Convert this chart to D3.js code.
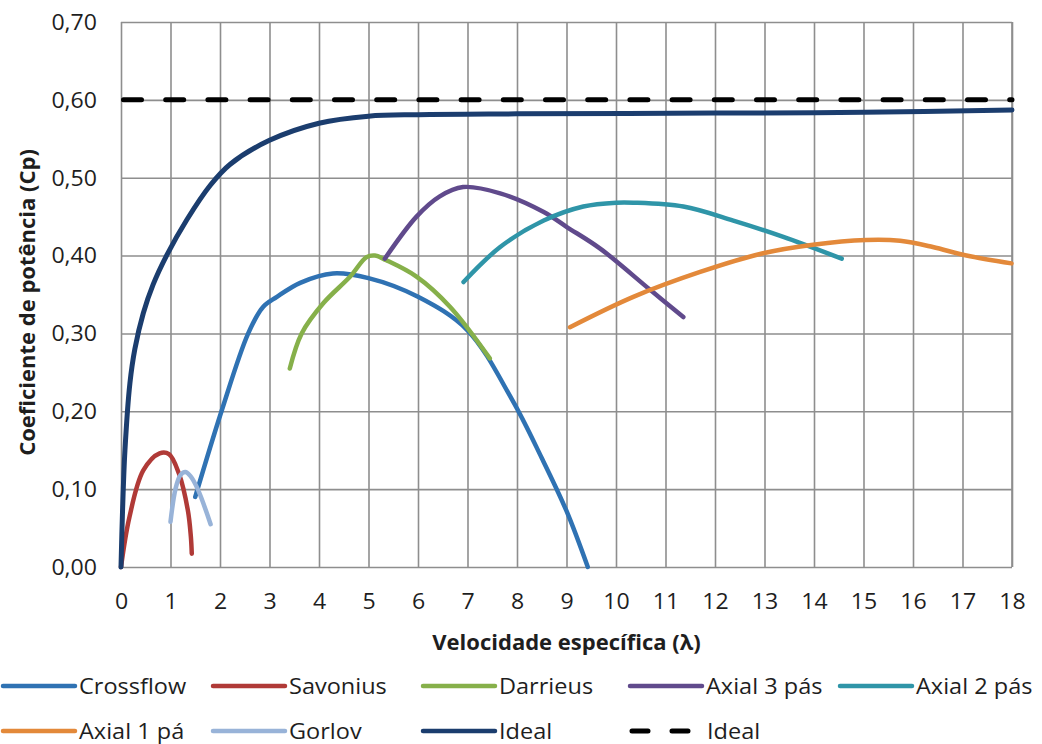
<!DOCTYPE html>
<html>
<head>
<meta charset="utf-8">
<script src="https://cdn.jsdelivr.net/npm/d3@7"></script>
<style>
  body { margin: 0; background: #fff; }
  text { font-family: "Open Sans", sans-serif; fill: #1e1e1e; }
</style>
</head>
<body>
<svg id="chart" width="1042" height="744"></svg>
<script>
// tick labels
const xTickValues = [0, 1, 2, 3, 4, 5, 6, 7, 8, 9, 10, 11, 12, 13, 14, 15, 16, 17, 18];
const yTickValues = [0, 0.1, 0.2, 0.3, 0.4, 0.5, 0.6, 0.7];

// series values [lambda, Cp]
const crossflow = [[1.5, 0.09], [2.03, 0.20], [2.57, 0.30], [2.87, 0.334], [3.15, 0.347], [3.62, 0.365],
  [4.28, 0.377], [5, 0.371], [6, 0.347], [7, 0.304], [7.9, 0.215], [8.5, 0.14], [9, 0.072], [9.43, 0]];
const savonius = [[0, 0], [0.17, 0.064], [0.45, 0.124], [0.78, 0.146], [0.97, 0.145], [1.17, 0.12],
  [1.35, 0.073], [1.41, 0.04], [1.43, 0.017]];
const darrieus = [[3.41, 0.255], [3.65, 0.30], [4.09, 0.339], [4.63, 0.373], [4.96, 0.398], [5.13, 0.40],
  [5.36, 0.394], [5.97, 0.373], [6.65, 0.334], [7.45, 0.268]];
const axial3 = [[5.33, 0.396], [5.97, 0.45], [6.44, 0.476], [6.91, 0.488], [7.66, 0.48], [8.54, 0.456],
  [9.0, 0.437], [9.68, 0.409], [10.69, 0.356], [11.36, 0.321]];
const axial2 = [[6.92, 0.366], [7.66, 0.411], [8.54, 0.445], [9.34, 0.463], [10.01, 0.468], [10.35, 0.468],
  [11.36, 0.463], [12.37, 0.445], [13.38, 0.424], [14.56, 0.396]];
const axial1 = [[9.07, 0.308], [10.35, 0.347], [11.7, 0.379], [12.97, 0.403], [13.98, 0.414], [15.05, 0.42],
  [15.74, 0.419], [16.4, 0.411], [17.08, 0.40], [17.99, 0.39]];
const gorlov = [[1.0, 0.058], [1.1, 0.10], [1.2, 0.118], [1.3, 0.122], [1.4, 0.117], [1.55, 0.10], [1.81, 0.055]];
const ideal = [[0, 0], [0.03, 0.07], [0.08, 0.15], [0.18, 0.236], [0.28, 0.28], [0.45, 0.326], [0.65, 0.363],
  [0.92, 0.40], [1.33, 0.446], [1.8, 0.49], [2.2, 0.517], [3, 0.548], [4, 0.57], [5, 0.579], [6, 0.581],
  [8, 0.582], [12, 0.583], [15, 0.584], [18, 0.587]];
const idealLimit = [[0, 0.6], [18, 0.6]];

const seriesNames = ['Crossflow', 'Savonius', 'Darrieus', 'Axial 3 pás', 'Axial 2 pás', 'Axial 1 pá', 'Gorlov', 'Ideal', 'Ideal'];
const seriesData = [crossflow, savonius, darrieus, axial3, axial2, axial1, gorlov, ideal, idealLimit];
const seriesColors = ['#2f72b3', '#b03a37', '#86b04a', '#604a8c', '#2f95a8', '#e3893a', '#98b3d8', '#1b3d6e', '#000'];

const margin = { top: 22, right: 30, bottom: 177, left: 121 };
const width = 1042 - margin.left - margin.right;
const height = 744 - margin.top - margin.bottom;
const stretch = 1.1; // the picture's text is a bit wider than the font

const svg = d3.select('#chart');
const g = svg.append('g')
  .attr('transform', 'translate(' + margin.left + ',' + margin.top + ')');

const x = d3.scaleLinear().domain([0, 18]).range([0, width]);
const y = d3.scaleLinear().domain([0, 0.7]).range([height, 0]);
const locale = d3.formatLocale({ decimal: ',', thousands: '.', grouping: [3], currency: ['', ''] });
const yFormat = locale.format('.2f');

// grid + axes
const xAxis = g.append('g')
  .attr('transform', 'translate(0,' + height + ')')
  .call(d3.axisBottom(x).tickValues(xTickValues).tickSize(-height).tickPadding(0).tickFormat(d3.format('d')));
const yAxis = g.append('g')
  .call(d3.axisLeft(y).tickValues(yTickValues).tickSize(-width).tickPadding(0).tickFormat(yFormat));

[xAxis, yAxis].forEach(function(ax) {
  ax.select('.domain').remove();
  ax.selectAll('.tick line').attr('stroke', '#8e8e8e').attr('stroke-width', 1.6);
  ax.selectAll('.tick text').attr('font-size', 21).attr('fill', '#1e1e1e')
    .style('font-family', '"Open Sans", sans-serif');
});
// right border
g.append('line')
  .attr('x1', x(18)).attr('x2', x(18)).attr('y1', 0).attr('y2', height)
  .attr('stroke', '#8e8e8e').attr('stroke-width', 1.6);

xAxis.selectAll('.tick text')
  .attr('y', 0).attr('dy', 0)
  .attr('transform', 'translate(0,42) scale(' + stretch + ',1)');
yAxis.selectAll('.tick text')
  .attr('x', 0).attr('dy', '0.35em')
  .attr('transform', 'translate(-24,0) scale(' + stretch + ',1)');

// lines
const line = d3.line()
  .x(function(d) { return x(d[0]); })
  .y(function(d) { return y(d[1]); })
  .curve(d3.curveCatmullRom.alpha(0.5));

g.append('g').attr('class', 'series')
  .selectAll('path')
  .data(seriesData)
  .enter().append('path')
  .attr('d', line)
  .attr('fill', 'none')
  .attr('stroke', function(d, i) { return seriesColors[i]; })
  .attr('stroke-width', function(d, i) { return i >= 7 ? 5 : 4.5; })
  .attr('stroke-dasharray', function(d, i) { return i === 8 ? '18,24.2' : null; })
  .attr('stroke-dashoffset', function(d, i) { return i === 8 ? -2.5 : null; })
  .attr('stroke-linecap', 'round');

// axis titles
svg.append('text')
  .attr('x', margin.left + width / 2).attr('y', 650)
  .attr('text-anchor', 'middle')
  .attr('font-size', 22).attr('font-weight', 'bold')
  .text('Velocidade específica (λ)');

svg.append('text')
  .attr('transform', 'translate(35,' + (margin.top + height / 2 + 8) + ') rotate(-90)')
  .attr('text-anchor', 'middle')
  .attr('font-size', 22).attr('font-weight', 'bold')
  .text('Coeficiente de potência (Cp)');

// legend
const legendCols = [3, 213, 423, 630, 840];
const legendRows = [686, 731];
const legend = svg.append('g').attr('class', 'legend');

const items = legend.selectAll('g')
  .data(seriesNames)
  .enter().append('g')
  .attr('transform', function(d, i) {
    return 'translate(' + legendCols[i % 5] + ',' + legendRows[Math.floor(i / 5)] + ')';
  });

items.append('line')
  .attr('x1', function(d, i) { return i === 8 ? 2 : 0; })
  .attr('x2', function(d, i) { return i === 8 ? 66 : 72; })
  .attr('y1', 0).attr('y2', 0)
  .attr('stroke', function(d, i) { return seriesColors[i]; })
  .attr('stroke-width', function(d, i) { return i === 8 ? 5 : 4.5; })
  .attr('stroke-dasharray', function(d, i) { return i === 8 ? '16,24' : null; })
  .attr('stroke-linecap', 'round');

items.append('text')
  .attr('transform', function(d, i) {
    return 'translate(' + (i === 8 ? 77 : 76) + ',0) scale(1.12,1)';
  })
  .attr('dy', '0.36em')
  .attr('font-size', 21)
  .text(function(d) { return d; });
</script>
</body>
</html>
